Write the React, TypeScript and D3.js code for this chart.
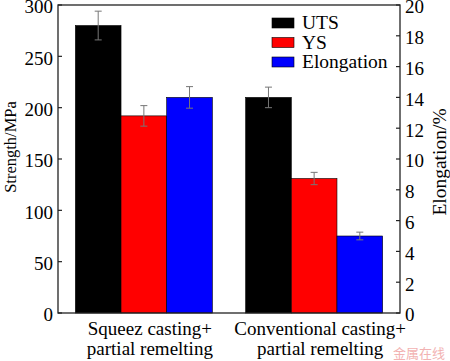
import React from "react";
import * as d3 from "d3";

const groups = ["Squeez casting+|partial remelting", "Conventional casting+|partial remelting"];
const seriesNames = ["UTS", "YS", "Elongation"];
const seriesColors = ["#000000", "#ff0000", "#0000ff"];
// strength in MPa (UTS, YS), elongation in %
const utsValues = [280, 210];
const utsErrors = [14, 10];
const ysValues = [192, 131];
const ysErrors = [10, 6];
const elongValues = [14, 5];
const elongErrors = [0.7, 0.25];
const leftTicks = [0, 50, 100, 150, 200, 250, 300];
const rightTicks = [0, 2, 4, 6, 8, 10, 12, 14, 16, 18, 20];

const W = 450;
const H = 361;
const FONT = "Liberation Serif, Times New Roman, serif";

export default function App() {
  const left = 58, right = 400, top = 5, bottom = 313;
  const yL = d3.scaleLinear().domain([0, 300]).range([bottom, top]);
  const yR = d3.scaleLinear().domain([0, 20]).range([bottom, top]);
  const x0 = d3.scaleBand<number>().domain([0, 1]).range([left, right]).paddingInner(0.1955).paddingOuter(0.102);
  const x1 = d3.scaleBand<string>().domain(seriesNames).range([0, x0.bandwidth()]).padding(0);

  const bars: any[] = [];
  groups.forEach((g, gi) => {
    const items = [
      { s: "UTS", v: utsValues[gi], e: utsErrors[gi], y: yL, c: seriesColors[0] },
      { s: "YS", v: ysValues[gi], e: ysErrors[gi], y: yL, c: seriesColors[1] },
      { s: "Elongation", v: elongValues[gi], e: elongErrors[gi], y: yR, c: seriesColors[2] },
    ];
    items.forEach((it) => {
      const bx = (x0(gi) as number) + (x1(it.s) as number);
      bars.push({ ...it, x: bx, w: x1.bandwidth(), key: `${gi}-${it.s}` });
    });
  });

  const tf = { fontFamily: FONT };

  return (
    <svg width={W} height={H} style={{ position: "absolute", left: 0, top: 0, background: "#fff" }}>
      <rect width={W} height={H} fill="#fff" />
      {bars.map((b) => (
        <rect key={b.key} x={b.x} y={b.y(b.v)} width={b.w} height={bottom - b.y(b.v)} fill={b.c} stroke="#000" strokeWidth={0.6} />
      ))}
      {bars.map((b) => {
        const cx = b.x + b.w / 2;
        const y1 = b.y(b.v + b.e);
        const y2 = b.y(b.v - b.e);
        return (
          <g key={"e" + b.key} stroke="#777" strokeWidth={1}>
            <line x1={cx} x2={cx} y1={y1} y2={y2} />
            <line x1={cx - 3.5} x2={cx + 3.5} y1={y1} y2={y1} />
            <line x1={cx - 3.5} x2={cx + 3.5} y1={y2} y2={y2} />
          </g>
        );
      })}
      <rect x={left} y={top} width={right - left} height={bottom - top} fill="none" stroke="#222" strokeWidth={1.3} />
      {leftTicks.map((t) => (
        <g key={"l" + t}>
          <line x1={left} x2={left + 4} y1={yL(t)} y2={yL(t)} stroke="#222" strokeWidth={1.2} />
          <text x={left - 5} y={yL(t) + 1.5} dy="0.36em" textAnchor="end" style={tf} fontSize={19}>{t}</text>
        </g>
      ))}
      {rightTicks.map((t) => (
        <g key={"r" + t}>
          <line x1={right} x2={right - 4} y1={yR(t)} y2={yR(t)} stroke="#222" strokeWidth={1.2} />
          <text x={right + 5} y={yR(t) + 1.5} dy="0.36em" textAnchor="start" style={tf} fontSize={19}>{t}</text>
        </g>
      ))}
      <text transform="translate(16,147) rotate(-90)" textAnchor="middle" style={tf} fontSize={16.5}>Strength/MPa</text>
      <text transform="translate(446,162) rotate(-90)" textAnchor="middle" style={tf} fontSize={19.5}>Elongation/%</text>
      {groups.map((g, gi) => {
        const cx = (x0(gi) as number) + x0.bandwidth() / 2 + 6;
        const lines = g.split("|");
        return (
          <text key={"x" + gi} textAnchor="middle" style={tf} fontSize={19}>
            {lines.map((ln, li) => (
              <tspan key={li} x={cx} y={335 + li * 20}>{ln}</tspan>
            ))}
          </text>
        );
      })}
      {seriesNames.map((s, i) => (
        <g key={"lg" + s}>
          <rect x={272} y={18 + i * 19.5} width={22} height={10} fill={seriesColors[i]} stroke="#000" strokeWidth={0.6} />
          <text x={302} y={29 + i * 19.5} style={tf} fontSize={19.5}>{s}</text>
        </g>
      ))}
      <text x={393} y={358} style={{ fontFamily: "Noto Sans CJK SC, sans-serif" }} fontSize={13} fill="#f0a0a0" opacity={0.8}>金属在线</text>
    </svg>
  );
}
